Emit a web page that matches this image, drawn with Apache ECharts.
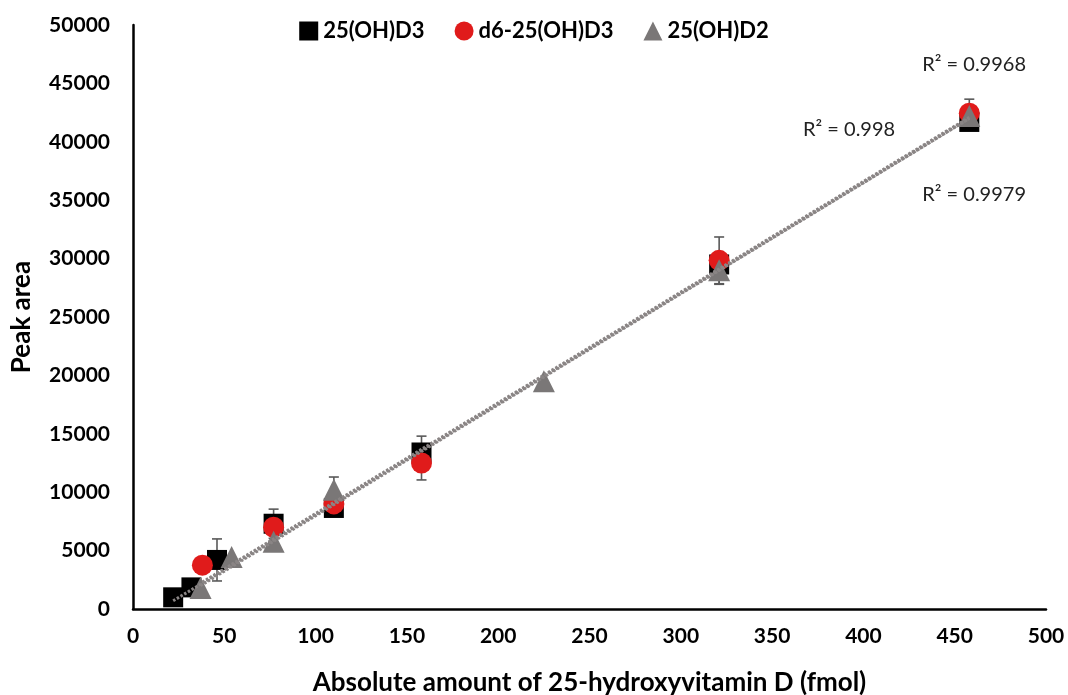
<!DOCTYPE html>
<html>
<head>
<meta charset="utf-8">
<script src="https://cdn.jsdelivr.net/npm/echarts@6/dist/echarts.min.js"></script>
<style>
  html, body { margin: 0; padding: 0; background: #fff; }
  #chart { width: 1068px; height: 695px; }
</style>
</head>
<body>
<div id="chart"></div>
<script>
// 数据
const seriesNames = ['25(OH)D3', 'd6-25(OH)D3', '25(OH)D2'];

const xD3 = [22, 32, 46, 77, 110, 158, 321, 458];
const yD3 = [1000, 1850, 4200, 7300, 8650, 13400, 29500, 41700];
const errD3 = [0, 0, 1800, 1250, 0, 1400, 0, 0];

const xD6 = [38, 77, 110, 158, 321, 458];
const yD6 = [3750, 7000, 9000, 12500, 29850, 42450];
const errD6 = [0, 0, 0, 1450, 2000, 1200];

const xD2 = [37, 54, 77, 110, 225, 321, 458];
const yD2 = [1800, 4450, 5750, 10200, 19500, 29000, 42200];
const errD2 = [0, 0, 0, 1100, 0, 1200, 0];

// 趋势线端点
const trendD3 = [[22, 700], [458, 42000]];
const trendD6 = [[38, 2300], [458, 42100]];
const trendD2 = [[37, 2000], [458, 42000]];

const r2Labels = ['R² = 0.9968', 'R² = 0.998', 'R² = 0.9979'];

const FONT = 'Lato';
const colors = ['#000000', '#e01b1b', '#7a7777'];
const symbols = ['rect', 'circle', 'triangle'];
const sizes = [20, 21, 22];

function zip(xs, ys) {
  return xs.map((x, i) => [x, ys[i]]);
}

function errData(xs, ys, es) {
  const out = [];
  xs.forEach((x, i) => {
    if (es[i] > 0) out.push([x, ys[i] - es[i], ys[i] + es[i]]);
  });
  return out;
}

function errorSeries(data) {
  return {
    type: 'custom',
    data: data,
    z: 1,
    silent: true,
    renderItem: (params, api) => {
      const x = api.value(0);
      const lo = api.coord([x, api.value(1)]);
      const hi = api.coord([x, api.value(2)]);
      const half = 5;
      const style = { stroke: '#595959', lineWidth: 1.6 };
      return {
        type: 'group',
        children: [
          { type: 'line', shape: { x1: lo[0], y1: lo[1], x2: hi[0], y2: hi[1] }, style },
          { type: 'line', shape: { x1: lo[0] - half, y1: lo[1], x2: lo[0] + half, y2: lo[1] }, style },
          { type: 'line', shape: { x1: hi[0] - half, y1: hi[1], x2: hi[0] + half, y2: hi[1] }, style }
        ]
      };
    }
  };
}

function scatterSeries(i, data) {
  return {
    name: seriesNames[i],
    type: 'scatter',
    data: data,
    symbol: symbols[i],
    symbolSize: sizes[i],
    itemStyle: { color: colors[i], opacity: 1 },
    z: 2 + i
  };
}

function trendSeries(data) {
  return {
    type: 'line',
    data: data,
    symbol: 'none',
    silent: true,
    z: 6,
    lineStyle: { color: '#8a8585', width: 3, type: [2.5, 1.8] }
  };
}

const chart = echarts.init(document.getElementById('chart'));

const option = {
  animation: false,
  textStyle: { fontFamily: FONT },
  grid: { left: 133, right: 22, top: 25, bottom: 86, outerBoundsMode: 'none', containLabel: false },
  legend: {
    top: 15,
    left: 'center',
    itemGap: 30,
    itemWidth: 19,
    itemHeight: 19,
    textStyle: { fontFamily: FONT, fontWeight: 'bold', fontSize: 22, color: '#000' },
    data: seriesNames.map((n, i) => ({ name: n, icon: symbols[i] }))
  },
  xAxis: {
    type: 'value',
    min: 0,
    max: 500,
    interval: 50,
    name: 'Absolute amount of 25-hydroxyvitamin D (fmol)',
    nameLocation: 'middle',
    nameGap: 61,
    nameTextStyle: { fontFamily: FONT, fontWeight: 'bold', fontSize: 26, color: '#000' },
    axisLine: { lineStyle: { color: '#000', width: 2.5 } },
    axisTick: { show: false },
    splitLine: { show: false },
    axisLabel: { fontFamily: FONT, fontWeight: 'bold', fontSize: 21, color: '#000', margin: 17 }
  },
  yAxis: {
    type: 'value',
    min: 0,
    max: 50000,
    interval: 5000,
    name: 'Peak area',
    nameLocation: 'middle',
    nameGap: 98,
    nameTextStyle: { fontFamily: FONT, fontWeight: 'bold', fontSize: 26, color: '#000' },
    axisLine: { show: true, lineStyle: { color: '#000', width: 2.5 } },
    axisTick: { show: false },
    splitLine: { show: false },
    axisLabel: {
      fontFamily: FONT, fontWeight: 'bold', fontSize: 21, color: '#000', margin: 23,
      formatter: (v) => String(v)
    }
  },
  graphic: [
    { type: 'text', right: 42, top: 55, style: { text: r2Labels[0], font: '20px Lato', fill: '#222' } },
    { type: 'text', left: 803, top: 120, style: { text: r2Labels[1], font: '20px Lato', fill: '#222' } },
    { type: 'text', right: 42, top: 185, style: { text: r2Labels[2], font: '20px Lato', fill: '#222' } }
  ],
  series: [
    errorSeries(errData(xD3, yD3, errD3)),
    errorSeries(errData(xD6, yD6, errD6)),
    errorSeries(errData(xD2, yD2, errD2)),
    scatterSeries(0, zip(xD3, yD3)),
    scatterSeries(1, zip(xD6, yD6)),
    scatterSeries(2, zip(xD2, yD2)),
    trendSeries(trendD3),
    trendSeries(trendD6),
    trendSeries(trendD2)
  ]
};

chart.setOption(option);
</script>
</body>
</html>
